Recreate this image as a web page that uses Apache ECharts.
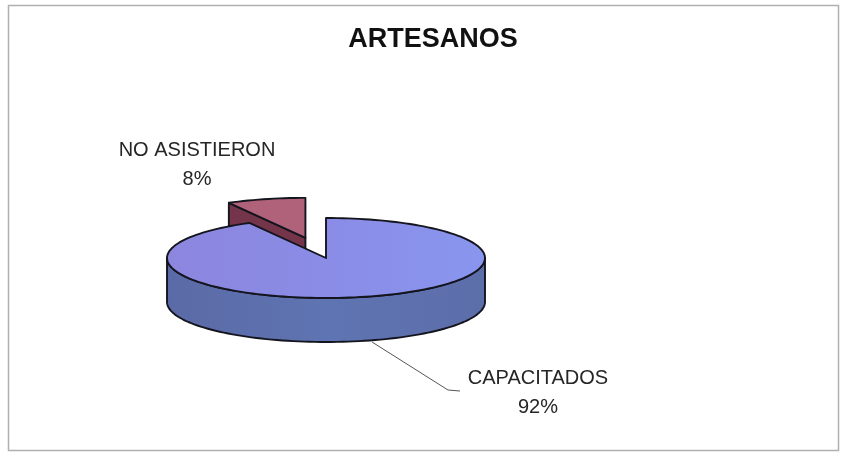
<!DOCTYPE html>
<html><head><meta charset="utf-8">
<script src="https://cdn.jsdelivr.net/npm/echarts@6/dist/echarts.min.js"></script>
<style>html,body{margin:0;padding:0;background:#fff}#c{width:844px;height:455px}</style>
</head><body><div id="c"></div>
<script>
// ---- data ----
const titleText = 'ARTESANOS';
const categories = ['CAPACITADOS', 'NO ASISTIERON'];
const values = [92, 8];

// ---- layout / style (not data) ----
const PIE = {cx: 326, cy: 258, rx: 159, ry: 40, depth: 44};
const EXPLODE = [0, 0.52];
const TOP = [
  new echarts.graphic.LinearGradient(0, 0, 1, 0, [{offset: 0, color: '#8c86de'}, {offset: 0.5, color: '#8a8ce6'}, {offset: 1, color: '#8996ee'}]),
  '#b0627b'
];
const SIDE = [
  new echarts.graphic.LinearGradient(0, 0, 1, 0, [{offset: 0, color: '#5a6aa6'}, {offset: 0.5, color: '#5f74b2'}, {offset: 1, color: '#5c6eaa'}]),
  '#74354a'
];
const LABELS = [
  {x: 538, y: 393, line: [[372, 342], [448, 390], [460, 391]]},
  {x: 197, y: 165, line: null}
];

const total = values.reduce((s, v) => s + v, 0);
const starts = [];
let acc = 0;
values.forEach(v => { starts.push(acc / total * 360); acc += v; });

function pt(t, ox, oy, dz) {
  const r = t * Math.PI / 180;
  return [PIE.cx + ox + PIE.rx * Math.sin(r), PIE.cy + oy - PIE.ry * Math.cos(r) + dz];
}
function arc(a, b, ox, oy, dz) {
  const n = Math.max(2, Math.ceil(Math.abs(b - a) / 2));
  const p = [];
  for (let k = 0; k <= n; k++) p.push(pt(a + (b - a) * k / n, ox, oy, dz));
  return p;
}
const STROKE = '#15151f';

function renderItem(params, api) {
  const i = params.dataIndex;
  const v = api.value(0);
  const a = starts[i];
  const b = a + v / total * 360;
  const mid = (a + b) / 2 * Math.PI / 180;
  const ox = EXPLODE[i] * PIE.rx * Math.sin(mid);
  const oy = -EXPLODE[i] * PIE.ry * Math.cos(mid);
  const zb = Math.round(-Math.cos(mid) * 10) + 20;
  const c = [PIE.cx + ox, PIE.cy + oy];
  const cb = [c[0], c[1] + PIE.depth];
  const children = [];
  const faceStyle = {fill: SIDE[i], stroke: STROKE, lineWidth: 1.9, lineJoin: 'round'};
  const ra = a * Math.PI / 180, rb = b * Math.PI / 180;
  if (Math.sin(ra) < -1e-6) {
    const o = pt(a, ox, oy, 0), ob = pt(a, ox, oy, PIE.depth);
    children.push({type: 'polygon', z2: zb, shape: {points: [c, o, ob, cb]}, style: faceStyle});
  }
  if (Math.sin(rb) > 1e-6) {
    const o = pt(b, ox, oy, 0), ob = pt(b, ox, oy, PIE.depth);
    children.push({type: 'polygon', z2: zb, shape: {points: [c, o, ob, cb]}, style: faceStyle});
  }
  const s = Math.max(a, 90), e = Math.min(b, 270);
  if (e > s) {
    const pts = arc(s, e, ox, oy, 0).concat(arc(s, e, ox, oy, PIE.depth).reverse());
    children.push({type: 'polygon', z2: zb + 1, shape: {points: pts}, style: faceStyle});
  }
  const topPts = [c].concat(arc(a, b, ox, oy, 0));
  children.push({type: 'polygon', z2: zb + 2, shape: {points: topPts},
    style: {fill: TOP[i], stroke: STROKE, lineWidth: 1.9, lineJoin: 'round'}});
  const L = LABELS[i];
  const pct = Math.round(v / total * 100) + '%';
  children.push({type: 'text', z2: 50, style: {
    text: categories[i] + '\n' + pct, x: L.x, y: L.y, align: 'center', verticalAlign: 'middle',
    font: '20px "Liberation Sans", Arial, sans-serif', fill: '#262626', lineHeight: 29
  }});
  if (L.line) {
    children.push({type: 'polyline', z2: 50, shape: {points: L.line}, style: {stroke: '#555', lineWidth: 1, fill: null}});
  }
  return {type: 'group', children: children};
}

const chart = echarts.init(document.getElementById('c'), null, {renderer: 'canvas'});
chart.setOption({
  backgroundColor: '#ffffff',
  animation: false,
  graphic: [
    {type: 'rect', shape: {x: 8.5, y: 5.5, width: 830, height: 445}, style: {fill: null, stroke: '#b0b0b0', lineWidth: 1.5}},
    {type: 'text', style: {text: titleText, x: 433, y: 40, align: 'center', verticalAlign: 'middle',
      font: 'bold 27px "Liberation Sans", Arial, sans-serif', fill: '#111'}}
  ],
  series: [{
    type: 'custom',
    coordinateSystem: 'none',
    renderItem: renderItem,
    data: values.map((v, k) => ({name: categories[k], value: [v]}))
  }]
});
</script>
</body></html>
